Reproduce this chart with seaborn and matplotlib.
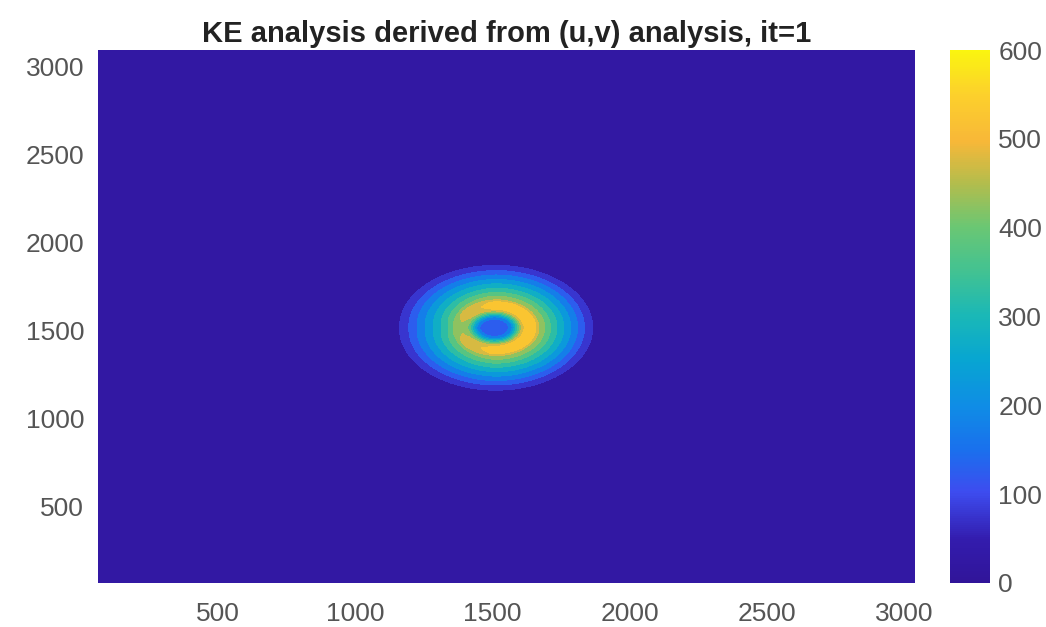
import numpy as np
import matplotlib
matplotlib.use("Agg")
import matplotlib.pyplot as plt
import seaborn as sns
from matplotlib.colors import LinearSegmentedColormap, Normalize
from matplotlib.cm import ScalarMappable

# ---------------- data ----------------
title = "KE analysis derived from (u,v) analysis, it=1"
vortex_center_x = 1510
vortex_center_y = 1517
# radial KE profile of the vortex (distance from centre, KE value)
profile_r = [0, 45, 60, 70, 82, 95, 105, 125, 148, 158, 180, 210, 250, 290, 325, 355, 385]
profile_ke = [110, 140, 190, 260, 350, 450, 505, 525, 505, 450, 400, 330, 250, 170, 100, 50, 0]
# weak azimuthal asymmetry (ring weaker on the left side)
angle_deg = [0, 90, 180, 270, 360]
angle_scale = [1.0, 1.0, 0.83, 1.0, 1.0]
contour_levels = [0, 50, 100, 150, 200, 250, 300, 350, 400, 450, 500, 550, 600]
x_ticks = [500, 1000, 1500, 2000, 2500, 3000]
y_ticks = [500, 1000, 1500, 2000, 2500, 3000]
cbar_ticks = [0, 100, 200, 300, 400, 500, 600]
x_limits = (62, 3040)
y_limits = (66, 3096)
grid_x = np.arange(62, 3041, 5)
grid_y = np.arange(66, 3097, 5)

# ---------------- style ----------------
sns.set_theme(style="white")
plt.rcParams['font.family'] = ['Liberation Sans', 'DejaVu Sans']

cmap_anchors = [
    (0.00, (0.19, 0.08, 0.60)),
    (0.08, (0.20, 0.11, 0.68)),
    (0.17, (0.24, 0.30, 0.94)),
    (0.25, (0.10, 0.44, 0.93)),
    (0.33, (0.06, 0.55, 0.90)),
    (0.42, (0.03, 0.65, 0.82)),
    (0.50, (0.10, 0.72, 0.72)),
    (0.58, (0.25, 0.76, 0.58)),
    (0.67, (0.42, 0.78, 0.45)),
    (0.75, (0.70, 0.74, 0.30)),
    (0.83, (0.97, 0.72, 0.22)),
    (0.92, (0.99, 0.82, 0.17)),
    (1.00, (0.98, 0.96, 0.06)),
]
cmap = LinearSegmentedColormap.from_list("parula_like", cmap_anchors)

# ---------------- field ----------------
X, Y = np.meshgrid(grid_x, grid_y)
R = np.hypot(X - vortex_center_x, Y - vortex_center_y)
TH = np.degrees(np.arctan2(Y - vortex_center_y, X - vortex_center_x)) % 360
KE = np.interp(R, profile_r, profile_ke) * np.interp(TH, angle_deg, angle_scale)

W, H = 1046, 627
fig = plt.figure(figsize=(W / 100, H / 100), dpi=100)
fig.patch.set_facecolor("white")
ax = fig.add_axes([98 / W, 1 - 583 / H, 817 / W, 533 / H])
norm = Normalize(vmin=0, vmax=600)
ax.contourf(X, Y, KE, levels=contour_levels, cmap=cmap, norm=norm)
ax.set_xlim(*x_limits)
ax.set_ylim(*y_limits)
ax.set_xticks(x_ticks)
ax.set_yticks(y_ticks)
ax.set_xticklabels([str(t) for t in x_ticks])
ax.set_yticklabels([str(t) for t in y_ticks])
for s in ax.spines.values():
    s.set_visible(False)
ax.tick_params(axis="x", length=0, pad=14, labelsize=19, colors="#555555")
ax.tick_params(axis="y", length=0, pad=10, labelsize=19, colors="#555555")
ax.set_title(title, fontsize=21, fontweight="bold", color="#222222", pad=6)

cax = fig.add_axes([950 / W, 1 - 583 / H, 40 / W, 533 / H])
sm = ScalarMappable(norm=norm, cmap=cmap)
cb = fig.colorbar(sm, cax=cax, ticks=cbar_ticks)
cb.outline.set_visible(False)
cax.tick_params(length=0, pad=6, labelsize=19, colors="#555555")

fig.savefig("out.png", dpi=100, facecolor="white")
